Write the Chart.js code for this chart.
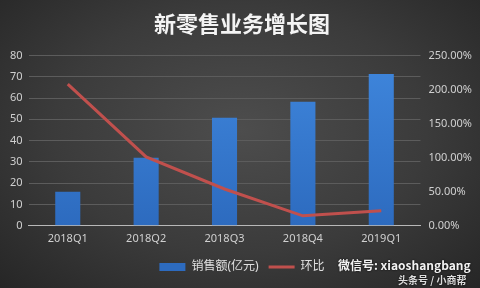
<!DOCTYPE html>
<html>
<head>
<meta charset="utf-8">
<script src="https://cdn.jsdelivr.net/npm/chart.js@4.4.1/dist/chart.umd.min.js"></script>
<style>
  html, body { margin: 0; padding: 0; }
  body {
    width: 480px; height: 288px; overflow: hidden; position: relative;
    background: radial-gradient(ellipse at 50% 45%, #4d4d4d 0%, #3b3b3b 55%, #262626 100%);
  }
  #wrap { position: absolute; left: 0; top: 0; width: 480px; height: 288px; }
  .wm { position: absolute; color: #f2f2f2; font-family: "Noto Sans CJK SC", sans-serif; font-weight: bold; text-shadow: 0 0 2px #000; }
</style>
</head>
<body>
<div id="wrap"><canvas id="chart" width="480" height="288"></canvas></div>
<div class="wm" style="left:338px; top:256px; font-size:12px;">微信号: xiaoshangbang</div>
<div class="wm" style="left:398px; top:272px; font-size:10px; color:#ddd;">头条号 / 小商帮</div>
<script>
// 季度
const quarters = ['2018Q1', '2018Q2', '2018Q3', '2018Q4', '2019Q1'];
// 销售额(亿元)
const sales = [16, 32, 50.7, 58.2, 71.3];
// 环比 (%)
const growth = [208, 101, 54, 14.6, 22];

const font = '"Noto Sans", "Noto Sans CJK SC", sans-serif';
const ctx = document.getElementById('chart').getContext('2d');

const barGrad = ctx.createLinearGradient(0, 60, 0, 225);
barGrad.addColorStop(0, '#3f86dc');
barGrad.addColorStop(1, '#2d6bbf');

new Chart(ctx, {
  data: {
    labels: quarters,
    datasets: [
      {
        type: 'line',
        label: '环比',
        data: growth,
        yAxisID: 'y1',
        borderColor: '#c0504d',
        backgroundColor: '#c0504d',
        borderWidth: 3,
        pointRadius: 0,
        pointStyle: 'line',
        tension: 0,
        order: 0
      },
      {
        type: 'bar',
        label: '销售额(亿元)',
        data: sales,
        yAxisID: 'y',
        backgroundColor: barGrad,
        barPercentage: 0.64,
        categoryPercentage: 0.5,
        pointStyle: 'rect',
        order: 1
      }
    ]
  },
  options: {
    responsive: false,
    animation: false,
    layout: { padding: { left: 4, right: 0, top: 2, bottom: 5 } },
    plugins: {
      title: {
        display: true,
        text: '新零售业务增长图',
        color: '#f4f4f4',
        font: { family: '"Noto Sans CJK SC", sans-serif', size: 22, weight: 'bold' },
        padding: { top: 8, bottom: 19 }
      },
      legend: {
        position: 'bottom',
        reverse: true,
        labels: {
          color: '#e0e0e0',
          font: { family: font, size: 12 },
          usePointStyle: true,
          pointStyleWidth: 26,
          boxHeight: 8,
          padding: 10
        }
      },
      tooltip: { enabled: false }
    },
    scales: {
      x: {
        grid: { display: false, drawTicks: false },
        border: { color: '#b8b8b8', width: 1 },
        ticks: { color: '#d0d0d0', font: { family: font, size: 11 }, padding: 6 }
      },
      y: {
        position: 'left',
        min: 0,
        max: 80,
        ticks: { stepSize: 10, color: '#d0d0d0', font: { family: font, size: 11 }, padding: 6 },
        grid: { color: '#5c5c5c', lineWidth: 1, drawTicks: false },
        border: { display: false }
      },
      y1: {
        position: 'right',
        min: 0,
        max: 250,
        ticks: {
          stepSize: 50,
          color: '#d0d0d0',
          font: { family: font, size: 11 },
          padding: 8,
          callback: v => v.toFixed(2) + '%'
        },
        grid: { display: false, drawTicks: false },
        border: { display: false }
      }
    }
  }
});
</script>
</body>
</html>
